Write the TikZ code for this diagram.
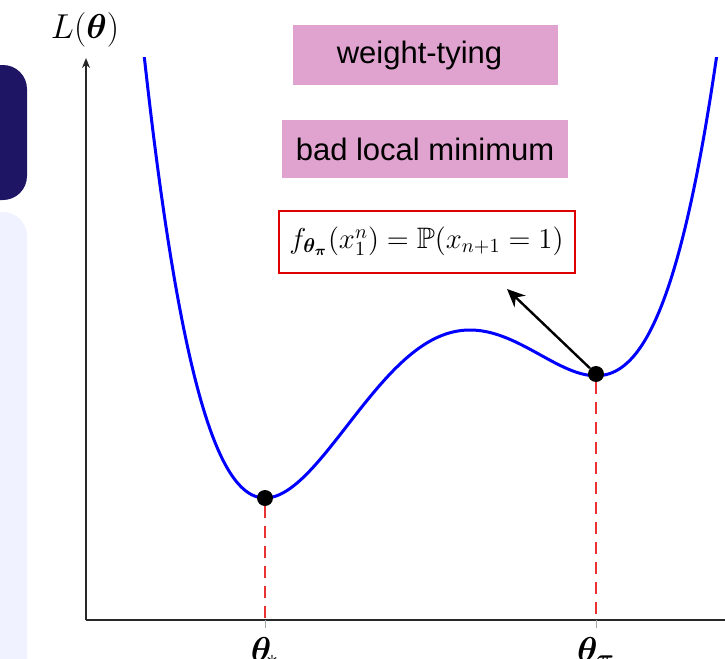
\documentclass[tikz,border=0pt]{standalone}
\usepackage{amsmath,amssymb,bm}
\usepackage{fontspec}
\newfontfamily\labelfont{Liberation Sans}
\usetikzlibrary{arrows.meta}
\definecolor{navypanel}{RGB}{30,22,100}
\definecolor{lightpanel}{RGB}{240,242,255}
\definecolor{pinkbox}{RGB}{224,162,206}
\definecolor{boxred}{RGB}{220,0,0}
\definecolor{dashred}{RGB}{235,50,50}
\definecolor{axisgray}{RGB}{40,40,40}
\tikzset{
  pinklabel/.style={fill=pinkbox, inner sep=0pt, font=\labelfont\fontsize{15.5}{18}\selectfont},
  formulabox/.style={draw=boxred, line width=1pt, fill=white, inner sep=0pt, font=\fontsize{14.8}{18}\selectfont},
  mindot/.style={circle, fill=black, inner sep=0pt, minimum size=8pt},
  lossaxis/.style={axisgray, line width=0.75pt},
  dropline/.style={dashred, line width=0.6pt, dash pattern=on 6pt off 4pt},
  curve/.style={blue, line width=1.5pt},
  mathlabel/.style={font=\fontsize{16.5}{19}\selectfont, inner sep=0pt}
}
\begin{document}
\begin{tikzpicture}[x=0.5pt,y=-0.5pt]
\useasboundingbox (0,0) rectangle (725,659);
% left panels
\fill[navypanel, rounded corners=12pt] (-40,65) rectangle (27,200);
\fill[lightpanel, rounded corners=12pt] (-40,212) rectangle (27,720);
% axes
\coordinate (origin) at (86,620);
\coordinate (ytop) at (86,58);
\coordinate (xend) at (730,620);
\draw[lossaxis, -{Stealth[length=5pt,width=4pt]}] (origin) -- (ytop);
\draw[lossaxis] (origin) -- (xend);
\node[mathlabel] (ylab) at (85,30) {$L(\bm{\theta})$};
% curve
\begin{scope}
\clip (86,57) rectangle (725,620);
\draw[curve] plot[domain=-1.25:4.6, samples=250, smooth]
  ({265+100*\x}, {498-51.2*(\x*\x*\x*\x/4-1.78667*\x*\x*\x+3.39275*\x*\x)});
\end{scope}
% minima
\node[mindot] (gmin) at (265,498) {};
\node[mindot] (lmin) at (596,374) {};
\coordinate (gfoot) at (265,620);
\coordinate (lfoot) at (596,620);
\draw[dropline] (gmin) -- (gfoot);
\draw[dropline] (lmin) -- (lfoot);
\coordinate (gtick) at (265,628);
\coordinate (ltick) at (596,628);
\draw[gray!70, line width=0.5pt] (gfoot) -- (gtick);
\draw[gray!70, line width=0.5pt] (lfoot) -- (ltick);
\node[mathlabel, anchor=north] (glab) at (265,637) {$\bm{\theta}_{\!*}$};
\node[mathlabel, anchor=north] (llab) at (596,637) {$\bm{\theta}_{\bm{\pi}}$};
% boxes
\node[pinklabel, minimum width=132.5pt, minimum height=30pt] (wt) at (425.5,55) {weight-tying\hspace*{6pt}};
\node[pinklabel, minimum width=143pt, minimum height=29pt] (blm) at (425,149) {bad local minimum};
\node[formulabox, minimum width=148pt, minimum height=31pt] (fbox) at (426.5,241.5)
  {$f_{\bm{\theta}_{\bm{\pi}}}(x_1^n)=\mathbb{P}(x_{n+1}=1)$};
\coordinate (arrowtip) at (507,289);
\draw[black, line width=1.2pt, -{Stealth[length=9pt,width=8pt]}] (lmin) -- (arrowtip);
\end{tikzpicture}
\end{document}
